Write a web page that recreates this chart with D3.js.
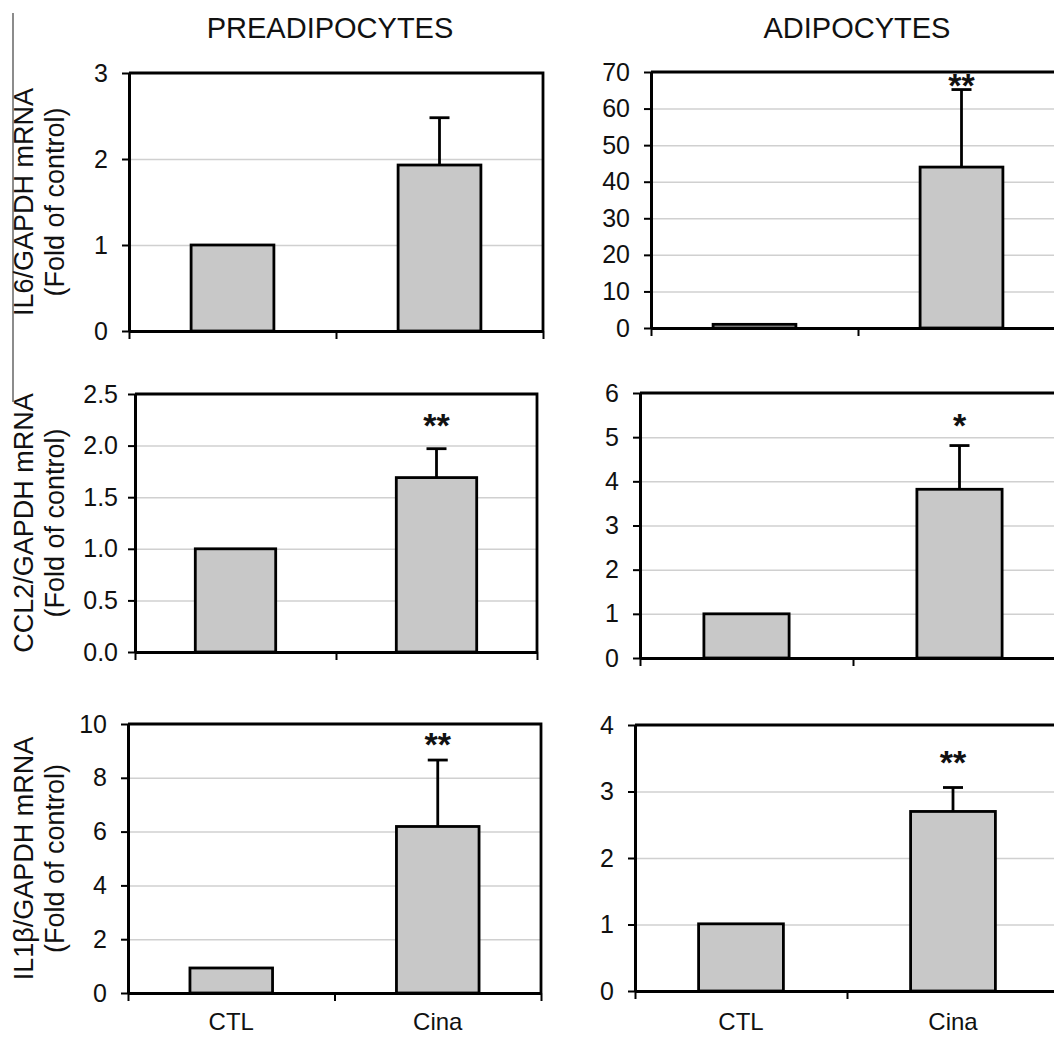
<!DOCTYPE html>
<html>
<head>
<meta charset="utf-8">
<script src="https://cdn.jsdelivr.net/npm/d3@7"></script>
<style>
  body { margin: 0; background: #fff; }
  svg { display: block; font-family: 'Liberation Sans', Arial, sans-serif; }
</style>
</head>
<body>
<svg id="chart" width="1054" height="1037"></svg>
<script>
// Data (fold of control)
const categories = ['CTL', 'Cina'];

const preIL6 = [1.0, 1.93];
const preIL6Err = [0, 0.55];
const adiIL6 = [1.0, 44.0];
const adiIL6Err = [0, 21.2];

const preCCL2 = [1.0, 1.69];
const preCCL2Err = [0, 0.28];
const adiCCL2 = [1.0, 3.82];
const adiCCL2Err = [0, 0.99];

const preIL1b = [0.93, 6.19];
const preIL1bErr = [0, 2.47];
const adiIL1b = [1.01, 2.7];
const adiIL1bErr = [0, 0.36];

// significance marks per category, and the level (data units) they sit at
const preIL6Sig = ['', ''];
const adiIL6Sig = ['', '**'];
const preCCL2Sig = ['', '**'];
const adiCCL2Sig = ['', '*'];
const preIL1bSig = ['', '**'];
const adiIL1bSig = ['', '**'];
const sigLevel = { adiIL6: 68.0, preCCL2: 2.26, adiCCL2: 5.42, preIL1b: 9.48, adiIL1b: 3.53 };

const columnTitles = ['PREADIPOCYTES', 'ADIPOCYTES'];
const rowTitles = [
  ['IL6/GAPDH mRNA', '(Fold of control)'],
  ['CCL2/GAPDH mRNA', '(Fold of control)'],
  ['IL1\u03b2/GAPDH mRNA', '(Fold of control)'],
];

// y scale settings per panel
const yMax = { preIL6: 3, adiIL6: 70, preCCL2: 2.5, adiCCL2: 6, preIL1b: 10, adiIL1b: 4 };
const yStep = { preIL6: 1, adiIL6: 10, preCCL2: 0.5, adiCCL2: 1, preIL1b: 2, adiIL1b: 1 };

// panel boxes in px: left, top, right, bottom
const layout = {
  preIL6: [129, 73, 543, 331],
  adiIL6: [651, 72, 1065, 328],
  preCCL2: [135, 394, 537, 652],
  adiCCL2: [640, 393, 1066, 658],
  preIL1b: [128, 724, 541, 993],
  adiIL1b: [635, 725, 1059, 991],
};

const panels = [
  { key: 'preIL6', values: preIL6, err: preIL6Err, sig: preIL6Sig, row: 0, col: 0 },
  { key: 'adiIL6', values: adiIL6, err: adiIL6Err, sig: adiIL6Sig, row: 0, col: 1 },
  { key: 'preCCL2', values: preCCL2, err: preCCL2Err, sig: preCCL2Sig, row: 1, col: 0, fmt: '.1f', pad: 10 },
  { key: 'adiCCL2', values: adiCCL2, err: adiCCL2Err, sig: adiCCL2Sig, row: 1, col: 1 },
  { key: 'preIL1b', values: preIL1b, err: preIL1bErr, sig: preIL1bSig, row: 2, col: 0 },
  { key: 'adiIL1b', values: adiIL1b, err: adiIL1bErr, sig: adiIL1bSig, row: 2, col: 1 },
];

const svg = d3.select('#chart');

// stray border line at the left edge of the scan
svg.append('line')
  .attr('x1', 13).attr('x2', 13)
  .attr('y1', 13).attr('y2', 402)
  .attr('stroke', '#666').attr('stroke-width', 1.5);

// column titles
svg.selectAll('.col-title')
  .data(columnTitles)
  .join('text')
  .attr('class', 'col-title')
  .attr('x', (d, i) => (i === 0 ? 330 : 857))
  .attr('y', 38)
  .attr('text-anchor', 'middle')
  .attr('font-size', 29)
  .attr('fill', '#111')
  .text((d) => d);

panels.forEach((p) => drawPanel(p));

function drawPanel(p) {
  const [l, t, r, b] = layout[p.key];
  const width = r - l;
  const height = b - t;

  const xScale = d3.scaleBand()
    .domain(categories)
    .range([0, width])
    .paddingInner(0.6)
    .paddingOuter(0.3);
  const yScale = d3.scaleLinear().domain([0, yMax[p.key]]).range([height, 0]);
  const ticks = d3.range(0, yMax[p.key] + yStep[p.key] / 2, yStep[p.key]);

  const g = svg.append('g').attr('transform', `translate(${l},${t})`);

  // gridlines
  g.append('g')
    .attr('class', 'grid')
    .call(d3.axisLeft(yScale).tickValues(ticks.slice(1, -1)).tickSize(-width).tickFormat(''))
    .call((s) => s.select('.domain').remove())
    .call((s) => s.selectAll('line').attr('stroke', '#d0d0d0').attr('stroke-width', 1.5));

  // bars
  g.selectAll('.bar')
    .data(categories)
    .join('rect')
    .attr('class', 'bar')
    .attr('x', (d) => xScale(d))
    .attr('y', (d, i) => yScale(p.values[i]))
    .attr('width', xScale.bandwidth())
    .attr('height', (d, i) => height - yScale(p.values[i]))
    .attr('fill', '#c8c8c8')
    .attr('stroke', '#000')
    .attr('stroke-width', 2.8);

  // error bars (upper only)
  const errData = categories
    .map((c, i) => ({ c, v: p.values[i], e: p.err[i] }))
    .filter((d) => d.e > 0);
  const cx = (d) => xScale(d.c) + xScale.bandwidth() / 2;
  g.selectAll('.err')
    .data(errData)
    .join('line')
    .attr('x1', cx).attr('x2', cx)
    .attr('y1', (d) => yScale(d.v))
    .attr('y2', (d) => yScale(d.v + d.e))
    .attr('stroke', '#000').attr('stroke-width', 2.8);
  g.selectAll('.cap')
    .data(errData)
    .join('line')
    .attr('x1', (d) => cx(d) - 10).attr('x2', (d) => cx(d) + 10)
    .attr('y1', (d) => yScale(d.v + d.e))
    .attr('y2', (d) => yScale(d.v + d.e))
    .attr('stroke', '#000').attr('stroke-width', 2.8);

  // frame top and right
  g.append('path')
    .attr('d', `M0,0H${width}V${height}`)
    .attr('fill', 'none')
    .attr('stroke', '#000')
    .attr('stroke-width', 2.8);

  // y axis
  const yAxisG = g.append('g')
    .call(d3.axisLeft(yScale)
      .tickValues(ticks)
      .tickSize(7)
      .tickPadding(p.pad || 14)
      .tickSizeOuter(0)
      .tickFormat(d3.format(p.fmt || 'd')));
  yAxisG.select('.domain').attr('stroke-width', 3);
  yAxisG.selectAll('.tick line').attr('stroke-width', 2);
  yAxisG.selectAll('text')
    .attr('font-size', 25)
    .attr('font-family', "'Liberation Sans', Arial, sans-serif")
    .attr('fill', '#111');

  // x axis: tick marks between categories, Excel style
  const xTickScale = d3.scaleLinear().domain([0, 2]).range([0, width]);
  const xAxisG = g.append('g')
    .attr('transform', `translate(0,${height})`)
    .call(d3.axisBottom(xTickScale).tickValues([0, 1, 2]).tickSize(8).tickSizeOuter(0).tickFormat(''));
  xAxisG.select('.domain').attr('stroke-width', 3);
  xAxisG.selectAll('.tick line').attr('stroke-width', 2);

  // category labels only on the bottom row
  if (p.row === 2) {
    g.append('g')
      .attr('transform', `translate(0,${height})`)
      .call(d3.axisBottom(xScale).tickSize(0).tickPadding(0))
      .call((s) => s.select('.domain').remove())
      .selectAll('text')
      .attr('y', 1030 - b)
      .attr('dy', 0)
      .attr('font-size', 24)
      .attr('font-family', "'Liberation Sans', Arial, sans-serif")
      .attr('fill', '#111');
  }

  // significance stars
  const sigData = categories
    .map((c, i) => ({ c, s: p.sig[i] }))
    .filter((d) => d.s);
  g.selectAll('.sig')
    .data(sigData)
    .join('text')
    .attr('class', 'sig')
    .attr('x', cx)
    .attr('y', () => yScale(sigLevel[p.key]) + 18)
    .attr('text-anchor', 'middle')
    .attr('font-size', 34)
    .attr('font-weight', 'bold')
    .attr('fill', '#111')
    .text((d) => d.s);

  // y axis title on the left column
  if (p.col === 0) {
    const title = svg.append('g')
      .attr('transform', `translate(0,${t + height / 2}) rotate(-90)`);
    title.selectAll('text')
      .data(rowTitles[p.row])
      .join('text')
      .attr('x', 0)
      .attr('y', (d, i) => (i === 0 ? 33 : 64))
      .attr('text-anchor', 'middle')
      .attr('font-size', 27)
      .attr('fill', '#111')
      .text((d) => d);
  }
}
</script>
</body>
</html>
